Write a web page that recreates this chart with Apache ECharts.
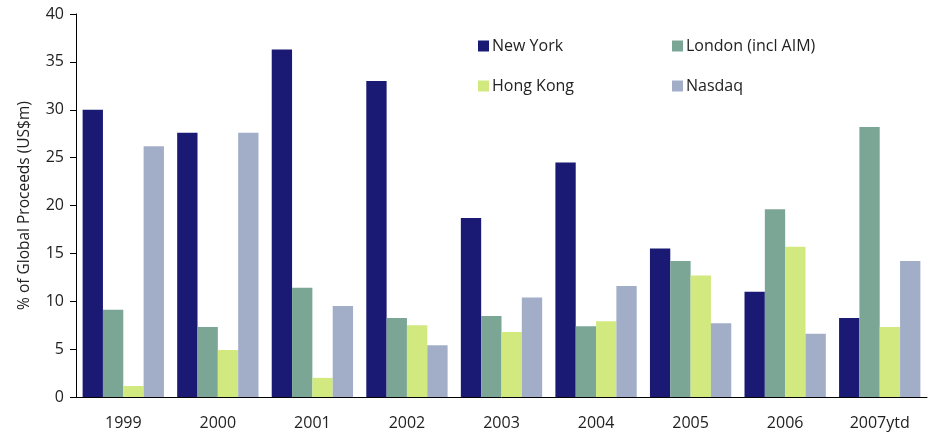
<!DOCTYPE html>
<html><head><meta charset="utf-8">
<script src="https://cdn.jsdelivr.net/npm/echarts@6/dist/echarts.min.js"></script>
<style>html,body{margin:0;padding:0;background:#fff}#c{width:934px;height:433px}</style>
</head><body><div id="c"></div>
<script>
var categories = ['1999','2000','2001','2002','2003','2004','2005','2006','2007ytd'];
var newYork = [30.0, 27.6, 36.3, 33.0, 18.7, 24.5, 15.5, 11.0, 8.25];
var london  = [9.1, 7.3, 11.4, 8.25, 8.45, 7.4, 14.2, 19.6, 28.2];
var hongKong = [1.15, 4.9, 2.0, 7.5, 6.8, 7.9, 12.7, 15.7, 7.3];
var nasdaq  = [26.2, 27.6, 9.5, 5.4, 10.4, 11.6, 7.7, 6.6, 14.2];
var seriesNames = ['New York', 'London (incl AIM)', 'Hong Kong', 'Nasdaq'];
var colors = ['#1a1a75', '#7ba696', '#d1e97e', '#a2aec8'];
var yTicks = {min: 0, max: 40, interval: 5};

var font = 'Open Sans';
var chart = echarts.init(document.getElementById('c'));
var dataSets = [newYork, london, hongKong, nasdaq];
var legendPos = [[478, 38], [672, 38], [478, 78], [672, 78]];
chart.setOption({
  animation: false,
  color: colors,
  grid: {left: 76, right: 7, top: 14, bottom: 36},
  legend: seriesNames.map(function (n, i) {
    return {
      data: [n], left: legendPos[i][0], top: legendPos[i][1], padding: 0,
      icon: 'rect', itemWidth: 11, itemHeight: 11, itemGap: 4,
      textStyle: {fontFamily: font, fontSize: 16, color: '#222', padding: [0, 0, 0, -2]}
    };
  }),
  xAxis: {
    type: 'category', data: categories,
    axisLine: {lineStyle: {color: '#000', width: 1}},
    axisTick: {show: false},
    axisLabel: {fontFamily: font, fontSize: 16, color: '#222', margin: 18}
  },
  yAxis: {
    type: 'value', min: yTicks.min, max: yTicks.max, interval: yTicks.interval,
    name: '% of Global Proceeds (US$m)', nameLocation: 'middle', nameGap: 43,
    nameTextStyle: {fontFamily: font, fontSize: 15.5, color: '#222'},
    axisLine: {show: true, lineStyle: {color: '#000', width: 1}},
    axisTick: {show: true, length: 6, lineStyle: {color: '#000'}},
    splitLine: {show: false},
    axisLabel: {fontFamily: font, fontSize: 16, color: '#222', margin: 12}
  },
  series: seriesNames.map(function (n, i) {
    return {
      name: n, type: 'bar', data: dataSets[i],
      barGap: '0%', barCategoryGap: '14%',
      itemStyle: {color: colors[i]}
    };
  })
});
</script></body></html>
